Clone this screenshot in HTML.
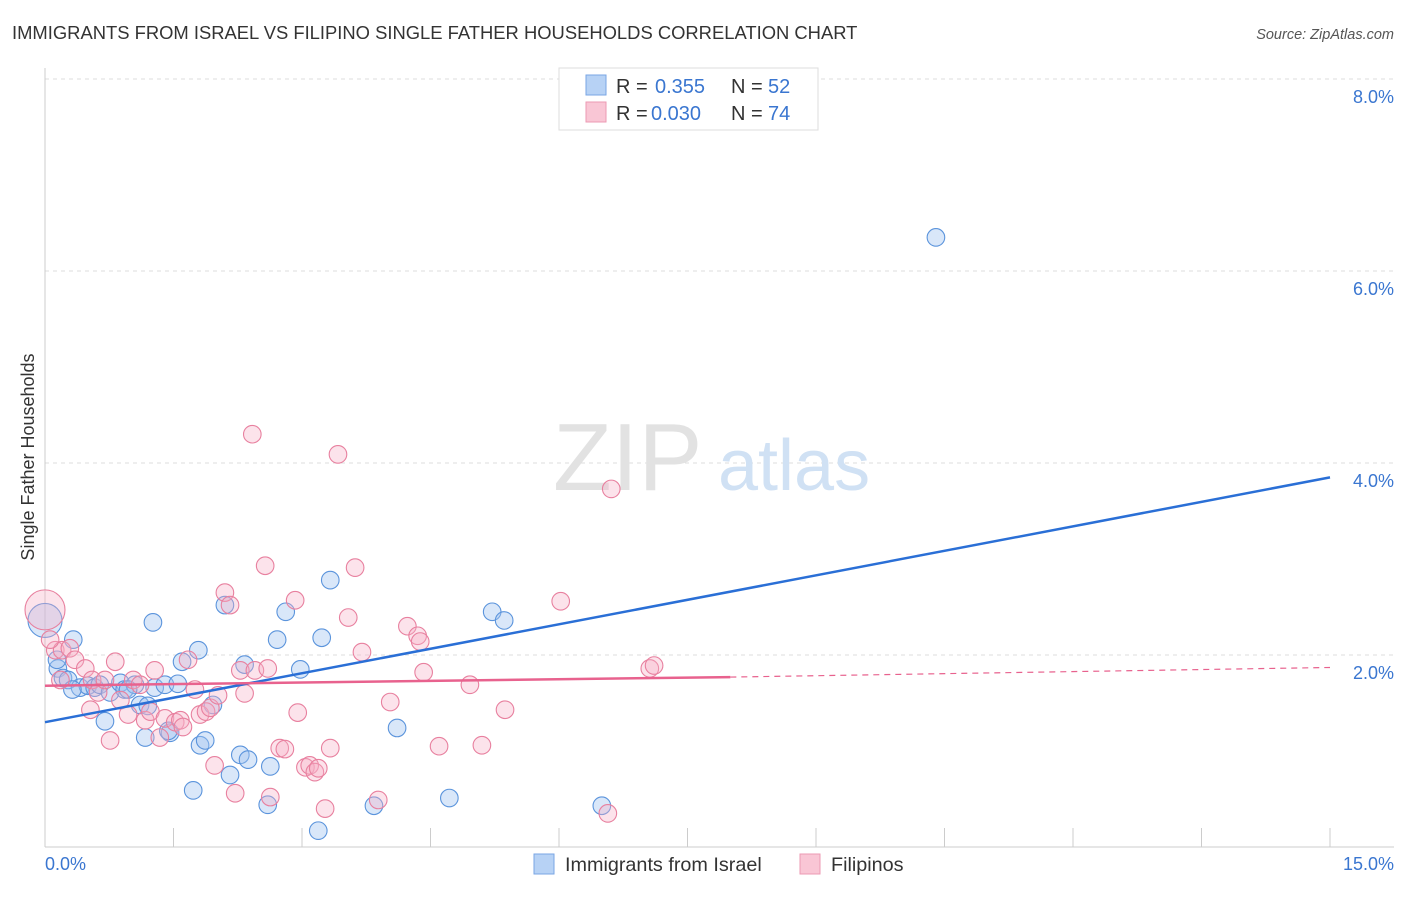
<!DOCTYPE html>
<html><head><meta charset="utf-8"><style>
body{margin:0;background:#fff;font-family:"Liberation Sans",sans-serif}
svg text{font-family:"Liberation Sans",sans-serif}
</style></head><body>
<svg id="chart" width="1406" height="892" xmlns="http://www.w3.org/2000/svg">
<text x="12" y="39" font-size="18.4" fill="#333">IMMIGRANTS FROM ISRAEL VS FILIPINO SINGLE FATHER HOUSEHOLDS CORRELATION CHART</text>
<text x="1394" y="39" font-size="14.5" fill="#555" text-anchor="end" font-style="italic">Source: ZipAtlas.com</text>
<g id="grid"></g>
<g>
<text x="553" y="490" font-size="96" fill="#e2e2e2" font-family="Liberation Serif,serif">ZIP</text>
<text x="718" y="490" font-size="72" fill="#d0e1f4">atlas</text>
</g>
<line x1="45" y1="68" x2="45" y2="847" stroke="#ccc"/>
<line x1="45" y1="847" x2="1394" y2="847" stroke="#ccc"/>
<g id="xticks"></g>
<g id="yticks"></g>
<text x="45" y="870" font-size="18" fill="#3a76d0">0.0%</text>
<text x="1394" y="870" font-size="18" fill="#3a76d0" text-anchor="end">15.0%</text>
<text transform="translate(34,457) rotate(-90)" font-size="18" fill="#333" text-anchor="middle">Single Father Households</text>
<g id="pts"></g>
<g id="trends"></g>
<g>
<rect x="559" y="68" width="259" height="62" fill="#fff" stroke="#ddd"/>
<rect x="586" y="75" width="20" height="20" fill="#b7d2f5" stroke="#7aa6e4"/>
<rect x="586" y="102" width="20" height="20" fill="#f9c6d5" stroke="#ec9ab3"/>
<text x="616" y="93" font-size="20" fill="#333">R =</text><text x="655" y="93" font-size="20" fill="#3a76d0">0.355</text>
<text x="731" y="93" font-size="20" fill="#333">N =</text><text x="768" y="93" font-size="20" fill="#3a76d0">52</text>
<text x="616" y="120" font-size="20" fill="#333">R =</text><text x="651" y="120" font-size="20" fill="#3a76d0">0.030</text>
<text x="731" y="120" font-size="20" fill="#333">N =</text><text x="768" y="120" font-size="20" fill="#3a76d0">74</text>
</g>
<g>
<rect x="534" y="854" width="20" height="20" fill="#b7d2f5" stroke="#7aa6e4"/>
<text x="565" y="871" font-size="19.8" fill="#333">Immigrants from Israel</text>
<rect x="800" y="854" width="20" height="20" fill="#f9c6d5" stroke="#ec9ab3"/>
<text x="831" y="871" font-size="19.8" fill="#333">Filipinos</text>
</g>
</svg>
<script>
const yTicks=[2,4,6,8];
const yTickLabels=["2.0%","4.0%","6.0%","8.0%"];
const xTickVals=[0,1.5,3,4.5,6,7.5,9,10.5,12,13.5,15];
const israel=[[0,2.36],[0.15,1.86],[0.33,2.16],[0.21,1.76],[0.27,1.74],[0.41,1.66],[0.50,1.68],[0.58,1.66],[0.64,1.69],[0.76,1.61],[0.88,1.71],[0.93,1.64],[1.05,1.69],[1.11,1.48],[1.20,1.47],[1.26,2.34],[1.28,1.66],[1.40,1.69],[1.17,1.14],[0.70,1.31],[1.55,1.70],[1.60,1.93],[1.46,1.19],[1.44,1.21],[1.73,0.59],[1.79,2.05],[1.81,1.06],[1.87,1.11],[1.96,1.48],[2.10,2.52],[2.16,0.75],[2.28,0.96],[2.33,1.90],[2.37,0.91],[2.60,0.44],[2.63,0.84],[2.71,2.16],[2.81,2.45],[2.98,1.85],[3.19,0.17],[3.23,2.18],[3.33,2.78],[3.84,0.43],[4.11,1.24],[4.72,0.51],[5.22,2.45],[5.36,2.36],[6.50,0.43],[10.40,6.35],[0.14,1.95],[0.32,1.64],[0.97,1.64]];
const filipinos=[[0,2.47],[0.12,2.05],[0.20,2.05],[0.29,2.07],[0.35,1.95],[0.47,1.86],[0.55,1.74],[0.62,1.61],[0.70,1.74],[0.82,1.93],[0.88,1.53],[0.97,1.38],[1.03,1.74],[1.11,1.69],[1.17,1.32],[1.23,1.41],[1.28,1.84],[1.34,1.14],[1.40,1.34],[1.52,1.30],[1.58,1.32],[1.61,1.25],[1.67,1.95],[1.75,1.64],[1.81,1.38],[1.88,1.41],[1.93,1.45],[1.98,0.85],[2.02,1.58],[2.10,2.65],[2.16,2.52],[2.22,0.56],[2.28,1.84],[2.33,1.60],[2.42,4.30],[2.45,1.84],[2.57,2.93],[2.60,1.86],[2.63,0.52],[2.74,1.03],[2.80,1.02],[2.92,2.57],[2.95,1.40],[3.04,0.83],[3.09,0.85],[3.15,0.78],[3.19,0.82],[3.27,0.40],[3.33,1.03],[3.42,4.09],[3.54,2.39],[3.62,2.91],[3.70,2.03],[3.89,0.49],[4.03,1.51],[4.23,2.30],[4.35,2.20],[4.38,2.14],[4.42,1.82],[4.60,1.05],[4.96,1.69],[5.10,1.06],[5.37,1.43],[6.02,2.56],[6.61,3.73],[6.57,0.35],[7.06,1.86],[7.11,1.89],[0.18,1.74],[0.06,2.16],[0.53,1.43],[0.76,1.11]];
const israelTrend=[[0,1.30],[15,3.85]];
const filipinoTrend=[[0,1.68],[8,1.77],[15,1.87]];
const NS="http://www.w3.org/2000/svg";
const X=v=>45+v*(1285/15), Y=v=>847-v*96;
function mk(t,a,p){const e=document.createElementNS(NS,t);for(const k in a)e.setAttribute(k,a[k]);p.appendChild(e);return e;}
const grid=document.getElementById('grid'),yt=document.getElementById('yticks'),xt=document.getElementById('xticks');
yTicks.forEach((v,i)=>{
 const l=mk('line',{x1:45,x2:1394,y1:Y(v),y2:Y(v),stroke:'#ddd','stroke-dasharray':'4,4'},grid);
 
 
 const t=mk('text',{x:1394,y:Y(v)+24,'font-size':18,fill:'#3a76d0','text-anchor':'end'},yt);
 t.textContent=yTickLabels[i];
 
 
});
xTickVals.forEach(v=>{
 const l=mk('line',{x1:X(v),x2:X(v),y1:828,y2:847,stroke:'#ccc'},xt);
 
 
});
const pts=document.getElementById('pts');
israel.forEach((d,i)=>{
 const c=mk('circle',{cx:X(d[0]),cy:Y(d[1]),r:i==0?17:8.8,fill:'rgba(160,195,240,0.4)',stroke:'#5b94dc','stroke-width':1.1},pts);
 
 
});
filipinos.forEach((d,i)=>{
 const c=mk('circle',{cx:X(d[0]),cy:Y(d[1]),r:i==0?20:8.8,fill:'rgba(245,175,198,0.35)',stroke:'#e8809f','stroke-width':1.1},pts);
 
 
});
const tr=document.getElementById('trends');
const bl=mk('line',{x1:X(israelTrend[0][0]),y1:Y(israelTrend[0][1]),x2:X(israelTrend[1][0]),y2:Y(israelTrend[1][1]),stroke:'#2a6fd6','stroke-width':2.5},tr);


const pl=mk('line',{x1:X(filipinoTrend[0][0]),y1:Y(filipinoTrend[0][1]),x2:X(filipinoTrend[1][0]),y2:Y(filipinoTrend[1][1]),stroke:'#e8628e','stroke-width':2.5},tr);


const pd=mk('line',{x1:X(filipinoTrend[1][0]),y1:Y(filipinoTrend[1][1]),x2:X(filipinoTrend[2][0]),y2:Y(filipinoTrend[2][1]),stroke:'#e8628e','stroke-width':1.2,'stroke-dasharray':'6,5'},tr);


</script>
</body></html>
